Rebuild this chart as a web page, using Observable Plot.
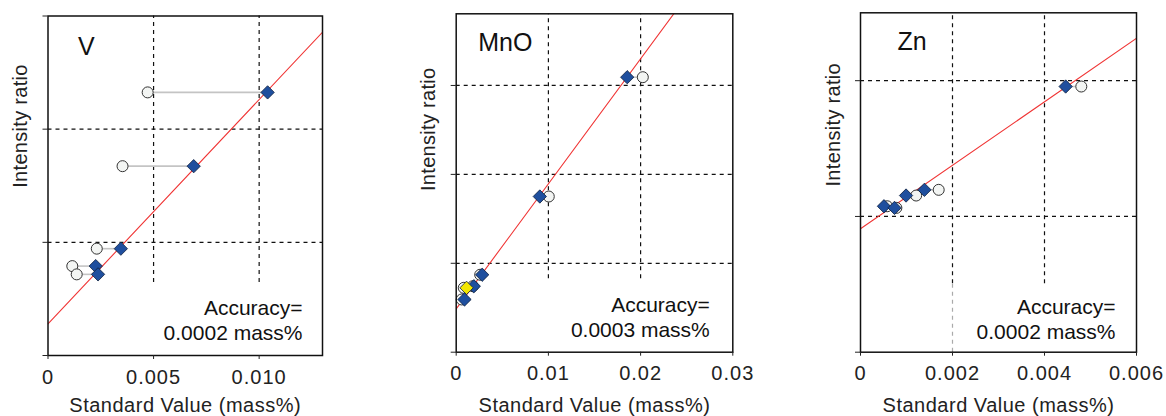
<!DOCTYPE html>
<html><head><meta charset="utf-8">
<script src="https://cdn.jsdelivr.net/npm/d3@7"></script>
<script src="https://cdn.jsdelivr.net/npm/@observablehq/plot@0.6"></script>
<style>
body{margin:0;background:#fff;}
#wrap{position:relative;width:1166px;height:416px;overflow:hidden;background:#fff;}
#wrap > svg{position:absolute;top:0;}
g[aria-label="x-axis tick label"] text{letter-spacing:1px;}
</style></head><body><div id="wrap"></div>
<script>
// ---------- data ----------
const elements = ["V", "MnO", "Zn"];
const accuracies = ["0.0002", "0.0003", "0.0002"];
const xLabel = "Standard Value (mass%)";
const yLabel = "Intensity ratio";

// V
const V_standard = [0.0104, 0.0069, 0.00345, 0.00226, 0.00237];
const V_measured = [0.00472, 0.00353, 0.00231, 0.00115, 0.00136];
const V_intensity = [2.325, 1.673, 0.944, 0.79, 0.717];
const V_fit = [0.28, 198.2];            // intercept, slope
const V_xTicks = [0, 0.005, 0.010];
const V_xTickLabels = ["0", "0.005", "0.010"];
const V_xMax = 0.013;
const V_yTicks = [0, 1, 2, 3];
const V_yMax = 3.0;
const V_grid = [1, 2];

// MnO
const MnO_standard = [0.01855, 0.00907, 0.00282, 0.00191, 0.00112, 0.0009];
const MnO_measured = [0.02024, 0.01004, 0.0026, 0.0018, 0.00082, 0.0006];
const MnO_intensity = [3.093, 1.751, 0.871, 0.742, 0.724, 0.593];
const MnO_highlight = [false, false, false, false, true, false];
const MnO_fit = [0.488, 140.6];
const MnO_xTicks = [0, 0.01, 0.02, 0.03];
const MnO_xTickLabels = ["0", "0.01", "0.02", "0.03"];
const MnO_xMax = 0.03;
const MnO_yTicks = [0, 1, 2, 3];
const MnO_yMax = 3.806;
const MnO_grid = [1, 2, 3];

// Zn
const Zn_standard = [0.00446, 0.00139, 0.00099, 0.00051, 0.00074];
const Zn_measured = [0.0048, 0.0017, 0.00121, 0.00058, 0.00078];
const Zn_intensity = [1.957, 1.196, 1.154, 1.075, 1.063];
const Zn_fit = [0.909, 233.8];
const Zn_xTicks = [0, 0.002, 0.004, 0.006];
const Zn_xTickLabels = ["0", "0.002", "0.004", "0.006"];
const Zn_xMax = 0.006;
const Zn_yTicks = [0, 1, 2];
const Zn_yMax = 2.5;
const Zn_grid = [1, 2];

// ---------- layout / style ----------
const layout = [
  {left: 0,   width: 345, mL: 47.5, mR: 23,   mT: 15.5, mB: 61,   vCut: 0.646, faint: [], tDx: 30, tDy: 31, aDx: -20, aDy: -36, xlDy: 50, ylDx: -27.5, ylDy: 2},
  {left: 405, width: 355, mL: 50.7, mR: 27.7, mT: 13.3, mB: 64.3, vCut: 0.826, faint: [], tDx: 22, tDy: 29, aDx: -23, aDy: -36, xlDy: 53.3, ylDx: -27.5, ylDy: 8},
  {left: 810, width: 356, mL: 50,   mR: 30,   mT: 12.3, mB: 64.3, vCut: 0.504, faint: [0.002], tDx: 37, tDy: 29, aDx: -21, aDy: -34, xlDy: 53.3, ylDx: -26.7, ylDy: 4}
];

const panels = [
  {std: V_standard, meas: V_measured, inten: V_intensity, hi: V_standard.map(() => false), fit: V_fit,
   xTicks: V_xTicks, xLabels: V_xTickLabels, xMax: V_xMax, yTicks: V_yTicks, yMax: V_yMax, grid: V_grid},
  {std: MnO_standard, meas: MnO_measured, inten: MnO_intensity, hi: MnO_highlight, fit: MnO_fit,
   xTicks: MnO_xTicks, xLabels: MnO_xTickLabels, xMax: MnO_xMax, yTicks: MnO_yTicks, yMax: MnO_yMax, grid: MnO_grid},
  {std: Zn_standard, meas: Zn_measured, inten: Zn_intensity, hi: Zn_standard.map(() => false), fit: Zn_fit,
   xTicks: Zn_xTicks, xLabels: Zn_xTickLabels, xMax: Zn_xMax, yTicks: Zn_yTicks, yMax: Zn_yMax, grid: Zn_grid}
];

const wrap = document.getElementById("wrap");
const FONT = "'Liberation Sans', Arial, Helvetica, sans-serif";

panels.forEach((p, k) => {
  const L = layout[k];
  const pts = p.std.map((s, i) => ({std: s, meas: p.meas[i], y: p.inten[i], hi: p.hi[i]}));
  const fitLine = [0, p.xMax].map(x => ({x, y: p.fit[0] + p.fit[1] * x}));
  const vGrid = p.xTicks.filter(t => t > 0 && t < p.xMax);
  const svg = Plot.plot({
    width: L.width, height: 416,
    marginLeft: L.mL, marginRight: L.mR, marginTop: L.mT, marginBottom: L.mB,
    style: {fontFamily: FONT, fontSize: "20px", color: "#222", background: "transparent", overflow: "visible"},
    x: {domain: [0, p.xMax]},
    y: {domain: [0, p.yMax]},
    marks: [
      Plot.ruleY(p.grid, {stroke: "#111", strokeWidth: 1.2, strokeDasharray: "4,4"}),
      Plot.ruleX(vGrid, {y1: L.vCut, y2: p.yMax, stroke: "#111", strokeWidth: 1.2, strokeDasharray: "4,4"}),
      Plot.ruleX(L.faint, {y1: 0, y2: L.vCut, stroke: "#aaa", strokeWidth: 1.2, strokeDasharray: "4,4"}),
      Plot.line(fitLine, {x: "x", y: "y", stroke: "#f03535", strokeWidth: 1.1, clip: true}),
      Plot.link(pts, {x1: "meas", x2: "std", y1: "y", y2: "y", stroke: "#c4c4c4", strokeWidth: 1.6}),
      Plot.dot(pts, {x: "meas", y: "y", r: 5.5, fill: "#f3f5f3", stroke: "#333", strokeWidth: 1}),
      Plot.dot(pts, {x: "std", y: "y", symbol: "diamond2", r: 6, fill: d => d.hi ? "#f2e600" : "#1f4f9e", stroke: "#0e1f3e", strokeWidth: 0.8}),
      Plot.frame({stroke: "#111", strokeWidth: 1.5}),
      Plot.axisX({ticks: p.xTicks, tickFormat: (d) => p.xLabels[p.xTicks.indexOf(d)], tickSize: 4, tickPadding: 10,
        label: null, fontSize: 20}),
      Plot.axisY({ticks: p.yTicks, tickFormat: () => "", tickSize: 5, label: null}),
      Plot.text([xLabel], {frameAnchor: "bottom", text: d => d, dy: L.xlDy, lineAnchor: "middle", fontSize: 20, fill: "#222"}),
      Plot.text([yLabel], {frameAnchor: "left", text: d => d, dx: L.ylDx, dy: L.ylDy, rotate: -90, lineAnchor: "middle", fontSize: 20, fill: "#222"}),
      Plot.text([elements[k]], {frameAnchor: "top-left", text: d => d, dx: L.tDx, dy: L.tDy, textAnchor: "start",
        lineAnchor: "middle", fontSize: 25, fill: "#111"}),
      Plot.text([`Accuracy=\n${accuracies[k]} mass%`], {frameAnchor: "bottom-right", text: d => d, dx: L.aDx, dy: L.aDy,
        textAnchor: "end", lineAnchor: "middle", lineHeight: 1.2, fontSize: 21, fill: "#111"})
    ]
  });
  d3.select(svg).selectAll("text")
    .filter(function() { return this.textContent === xLabel; }).style("letter-spacing", "0.5px");
  d3.select(svg).selectAll("text")
    .filter(function() { return this.textContent === yLabel; }).style("letter-spacing", "0.3px");
  svg.style.left = L.left + "px";
  wrap.appendChild(svg);
});
</script>
</body></html>
